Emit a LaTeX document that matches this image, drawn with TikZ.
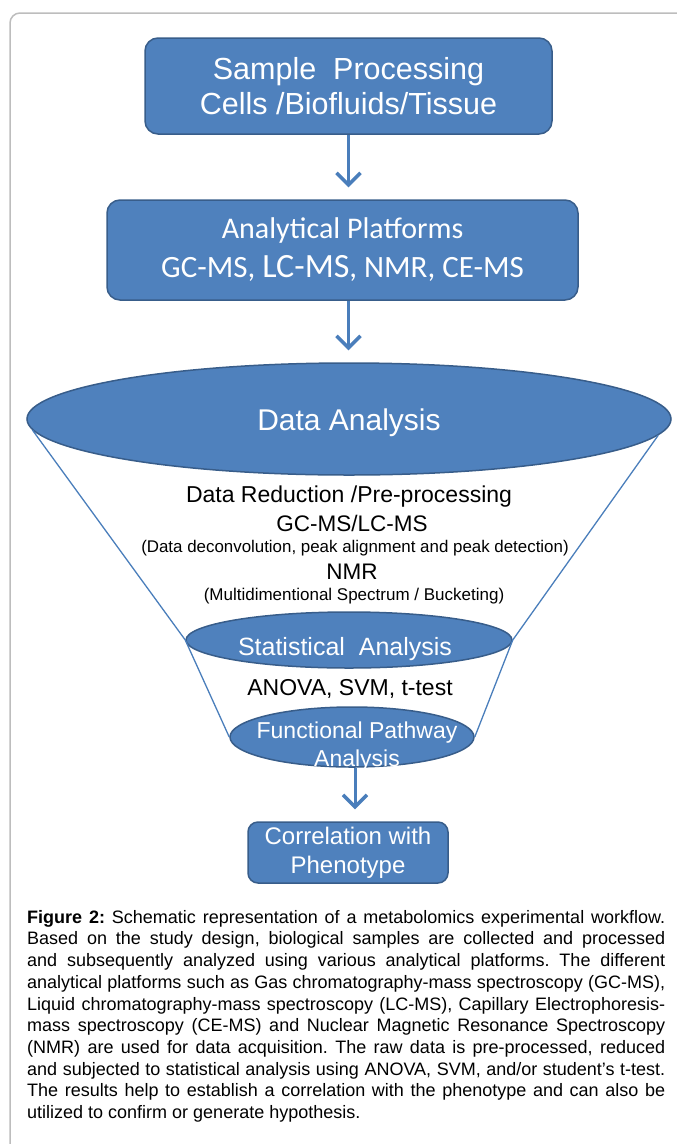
\documentclass[tikz,border=0pt]{standalone}
\usepackage{fontspec}
\setmainfont{Liberation Sans}
\newfontfamily\calibfont{Carlito}
\usepackage{tikz}
\usetikzlibrary{
  arrows.meta,
  positioning,
  shapes.geometric
}
\definecolor{boxblue}{HTML}{4F81BD}
\definecolor{edgeblue}{HTML}{385D8A}
\definecolor{lineblue}{HTML}{4A7EBB}
\definecolor{framegray}{HTML}{BDBDBD}
\tikzset{
  stepbox/.style={draw=edgeblue, line width=1.5pt, fill=boxblue, rounded corners=13pt, text=white, align=center, inner sep=0pt},
  blob/.style={ellipse, draw=edgeblue, line width=1.5pt, fill=boxblue, inner sep=0pt},
  flow/.style={lineblue, line width=3pt, -{Straight Barb[length=12pt,width=24pt,line width=3.5pt]}, shorten >=12pt},
  funnel/.style={lineblue, line width=1.3pt}
}
\frenchspacing

\begin{document}
\begin{tikzpicture}[x=1pt, y=-1pt]
\useasboundingbox (0,0) rectangle (677,1144);
\draw[framegray, line width=1.5pt, rounded corners=10pt] (10,1170) -- (10,13) -- (700,13);

\node[stepbox, minimum width=407pt, minimum height=96pt, font=\fontsize{30.5}{35}\selectfont] (sample) at (348.5,86) {Sample\ \ Processing\\Cells /Biofluids/Tissue};
\node[stepbox, minimum width=471pt, minimum height=100pt, font=\calibfont\fontsize{30}{39}\selectfont] (platforms) at (342.5,250) {Analytical Platforms\\{\fontsize{31}{39}\selectfont GC-MS, {\fontsize{34}{39}\selectfont LC-MS}, NMR, CE-MS}};

\node[blob, minimum width=644pt, minimum height=112pt] (analysis) at (349,419) {};
\node[text=white, font=\fontsize{30}{30}\selectfont] (analysistxt) at (349,423) {Data Analysis};

\node[blob, minimum width=326pt, minimum height=56pt] (stats) at (349,640) {};
\node[blob, minimum width=244pt, minimum height=60pt] (pathway) at (352,737) {};

\draw[funnel] (analysis.182) -- (stats.west) -- (pathway.west);
\draw[funnel] (analysis.357) -- (stats.east) -- (pathway.east);

\node[font=\fontsize{23}{23}\selectfont] (reduce) at (349,497) {Data Reduction /Pre-processing};
\node[font=\fontsize{22.5}{22}\selectfont] (gclc) at (352,523) {GC-MS/LC-MS};
\node[font=\fontsize{16.9}{17}\selectfont] (gcnote) at (355,548) {(Data deconvolution, peak alignment and peak detection)};
\node[font=\fontsize{22.5}{22}\selectfont] (nmr) at (352,572) {NMR};
\node[font=\fontsize{17}{17}\selectfont] (nmrnote) at (354,596) {(Multidimentional Spectrum / Bucketing)};

\node[text=white, font=\fontsize{25}{25}\selectfont] (statstxt) at (345,649) {Statistical\ \ Analysis};
\node[font=\fontsize{23}{23}\selectfont] (anova) at (350,689) {ANOVA, SVM, t-test};
\node[text=white, align=center, font=\fontsize{23}{28}\selectfont] (pathtxt) at (357,747) {Functional Pathway\\Analysis};

\node[stepbox, rounded corners=10pt, minimum width=200pt, minimum height=61pt, font=\fontsize{24}{29}\selectfont] (pheno) at (348,852.5) {Correlation with\\Phenotype};

\draw[flow] (sample.south) -- (sample.south |- platforms.north);
\draw[flow] (sample.south |- platforms.south) -- (sample.south |- analysis.north);
\draw[flow] ([xshift=3pt]pathway.south) -- ([xshift=3pt]pathway.south |- pheno.north);

\node[anchor=north west, text width=638pt, align=justify, inner sep=0pt, font=\fontsize{18}{21.7}\selectfont] (caption) at (27,910) {\tolerance=10000\hyphenpenalty=10000
\textbf{Figure 2:} Schematic representation of a metabolomics experimental workflow.\linebreak
Based on the study design, biological samples are collected and processed\linebreak
and subsequently analyzed using various analytical platforms. The different\linebreak
analytical platforms such as Gas chromatography-mass spectroscopy (GC-MS),\linebreak
Liquid chromatography-mass spectroscopy (LC-MS), Capillary Electrophoresis-\linebreak
mass spectroscopy (CE-MS) and Nuclear Magnetic Resonance Spectroscopy\linebreak
(NMR) are used for data acquisition. The raw data is pre-processed, reduced\linebreak
and subjected to statistical analysis using ANOVA, SVM, and/or student’s t-test.\linebreak
The results help to establish a correlation with the phenotype and can also be\linebreak
utilized to confirm or generate hypothesis.};
\end{tikzpicture}
\end{document}
